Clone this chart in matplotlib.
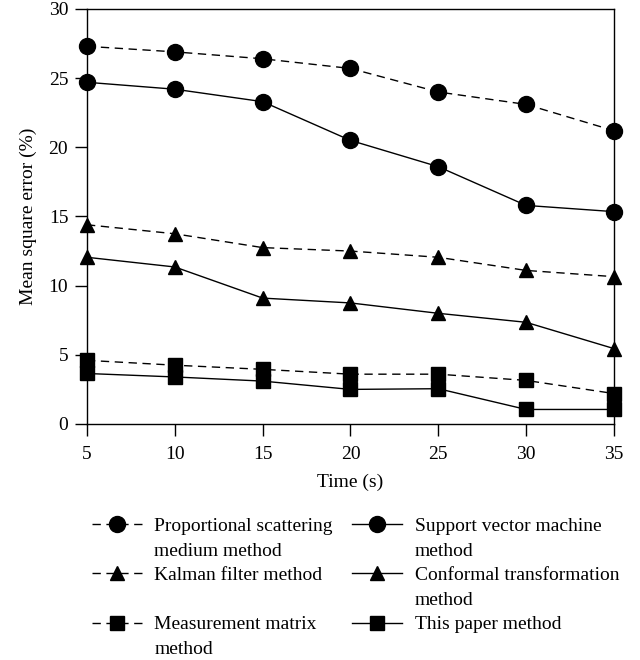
import matplotlib
matplotlib.use("Agg")
import matplotlib.pyplot as plt
from matplotlib.lines import Line2D

plt.rcParams['font.family'] = ['Liberation Serif', 'DejaVu Serif']

time_s = [5, 10, 15, 20, 25, 30, 35]
proportional = [27.3, 26.9, 26.4, 25.7, 24.0, 23.1, 21.2]
svm = [24.7, 24.2, 23.3, 20.5, 18.6, 15.8, 15.35]
kalman = [14.4, 13.75, 12.75, 12.5, 12.05, 11.1, 10.65]
conformal = [12.05, 11.35, 9.1, 8.75, 8.0, 7.35, 5.45]
measurement = [4.6, 4.25, 3.95, 3.6, 3.6, 3.15, 2.2]
this_paper = [3.65, 3.4, 3.1, 2.5, 2.55, 1.05, 1.05]

names = ["Proportional scattering medium method",
         "Support vector machine method",
         "Kalman filter method",
         "Conformal transformation method",
         "Measurement matrix method",
         "This paper method"]

fig = plt.figure(figsize=(6.4, 6.6), dpi=100)
ax = fig.add_axes([0.1359, 0.3576, 0.8234, 0.6288])

dash = (0, (6, 4))
series = [
    (proportional, 'o', dash, 11.5, names[0]),
    (svm, 'o', '-', 11.5, names[1]),
    (kalman, '^', dash, 10, names[2]),
    (conformal, '^', '-', 10, names[3]),
    (measurement, 's', dash, 10.5, names[4]),
    (this_paper, 's', '-', 10.5, names[5]),
]
handles = {}
for vals, mk, ls, ms, lab in series:
    h, = ax.plot(time_s, vals, color='black', linestyle=ls, linewidth=1.0,
                 marker=mk, markersize=ms, label=lab, clip_on=False, zorder=3)
    handles[lab] = h

ax.set_xlim(5, 35)
ax.set_ylim(0, 30)
ax.set_xticks([5, 10, 15, 20, 25, 30, 35])
ax.set_yticks([0, 5, 10, 15, 20, 25, 30])
ax.tick_params(direction='out', labelsize=14, length=8.5, width=1,
               top=False, right=False)
ax.tick_params(axis='x', pad=7)
ax.tick_params(axis='y', pad=5)
ax.set_xlabel("Time (s)", fontsize=14, labelpad=8)
ax.set_ylabel("Mean square error (%)", fontsize=14, labelpad=8)
for sp in ax.spines.values():
    sp.set_linewidth(1.0)

blank = Line2D([], [], linestyle='none', marker=None)
leg_handles = [handles[names[0]], blank, handles[names[2]], blank,
               handles[names[4]], blank,
               handles[names[1]], blank, handles[names[3]], blank,
               handles[names[5]], blank]
leg_labels = ["Proportional scattering", "medium method", "Kalman filter method",
              " ", "Measurement matrix", "method",
              "Support vector machine", "method", "Conformal transformation",
              "method", "This paper method", " "]
leg = fig.legend(leg_handles, leg_labels, ncol=2, loc='upper left',
                 bbox_to_anchor=(0.144, 0.216), frameon=False, fontsize=14,
                 handlelength=2.55, columnspacing=1.0, labelspacing=0.36,
                 handletextpad=0.65, borderpad=0, borderaxespad=0)

fig.savefig("out.png", dpi=100)
